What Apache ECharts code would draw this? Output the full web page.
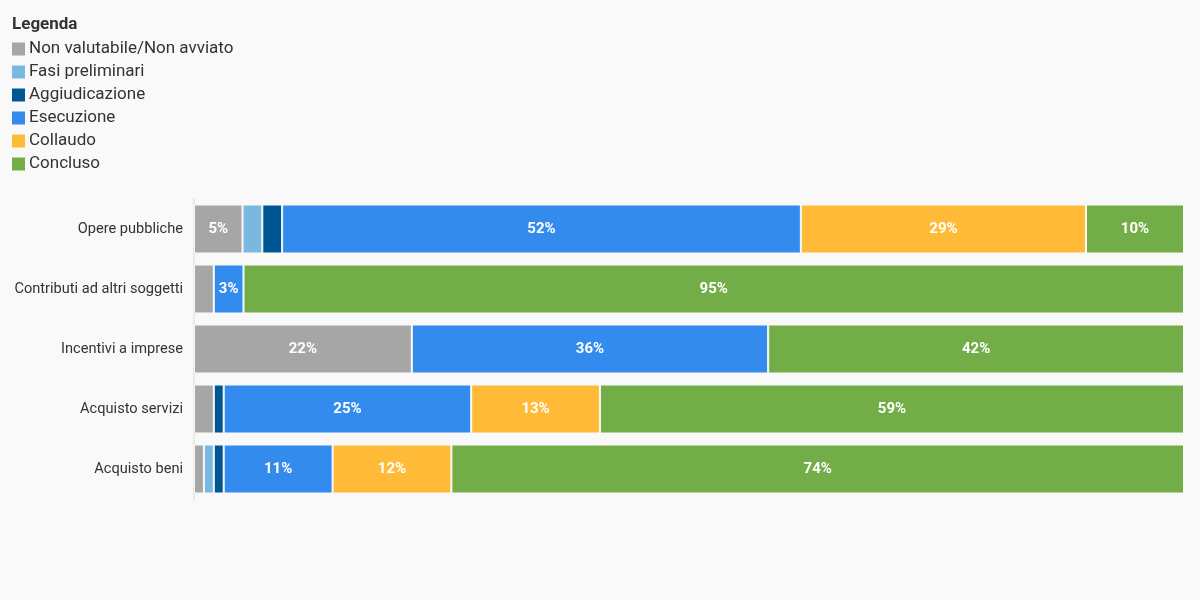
<!DOCTYPE html>
<html>
<head>
<meta charset="utf-8">
<script src="https://cdn.jsdelivr.net/npm/echarts@6/dist/echarts.min.js"></script>
<style>
  html, body { margin: 0; padding: 0; background: #f9f9f9; }
  #chart { width: 1200px; height: 600px; }
</style>
</head>
<body>
<div id="chart"></div>
<script>
  // categorie (dall'alto verso il basso)
  var categorie = ['Opere pubbliche', 'Contributi ad altri soggetti', 'Incentivi a imprese', 'Acquisto servizi', 'Acquisto beni'];

  // valori percentuali per fase
  var nonValutabile = [4.9, 2, 22, 2, 1];
  var fasiPreliminari = [2, 0, 0, 0, 1];
  var aggiudicazione = [2, 0, 0, 1, 1];
  var esecuzione = [52.4, 3, 36, 25, 11];
  var collaudo = [28.8, 0, 0, 13, 12];
  var concluso = [9.9, 95, 42, 59, 74];

  var fasi = ['Non valutabile/Non avviato', 'Fasi preliminari', 'Aggiudicazione', 'Esecuzione', 'Collaudo', 'Concluso'];
  var colori = ['#a6a6a6', '#7bb8e0', '#005693', '#338ced', '#ffba38', '#72ad48'];
  var valori = [nonValutabile, fasiPreliminari, aggiudicazione, esecuzione, collaudo, concluso];

  var font = 'Roboto';

  var series = fasi.map(function(nome, i) {
    return {
      name: nome,
      type: 'bar',
      stack: 'tot',
      barWidth: 49,
      data: valori[i],
      itemStyle: { color: colori[i], borderColor: '#f9f9f9', borderWidth: 1 },
      label: {
        show: true,
        color: '#fff',
        fontFamily: font,
        fontWeight: 'bold',
        fontSize: 15,
        formatter: function(p) { return p.value >= 3 ? Math.round(p.value) + '%' : ''; }
      },
      emphasis: { disabled: true }
    };
  });

  var myChart = echarts.init(document.getElementById('chart'));
  var option = {
    backgroundColor: '#f9f9f9',
    animation: false,
    title: {
      text: 'Legenda',
      left: 7,
      top: 11,
      textStyle: { fontFamily: font, fontSize: 17, fontWeight: 'bold', color: '#333' }
    },
    legend: {
      orient: 'vertical',
      left: 7,
      top: 35,
      itemWidth: 13,
      itemHeight: 13,
      itemGap: 5,
      icon: 'rect',
      itemStyle: { borderWidth: 0 },
      textStyle: { fontFamily: font, fontSize: 17, lineHeight: 18, color: '#333', padding: [0, 0, 0, -1] },
      data: fasi
    },
    grid: { left: 194, right: 16, top: 199, height: 300 },
    xAxis: {
      type: 'value',
      min: 0,
      max: 100,
      show: false
    },
    yAxis: {
      type: 'category',
      inverse: true,
      data: categorie,
      axisLine: { lineStyle: { color: '#e8e8e8', width: 2 } },
      axisTick: { length: 8, lineStyle: { color: '#e8e8e8' }, alignWithLabel: true },
      axisLabel: { fontFamily: font, fontSize: 14.6, color: '#333', margin: 11 }
    },
    series: series
  };
  myChart.setOption(option);
</script>
</body>
</html>
